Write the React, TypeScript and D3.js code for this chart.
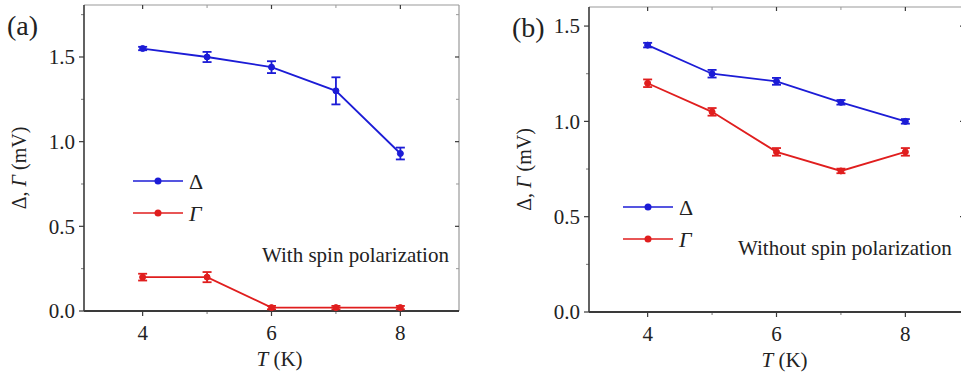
import * as d3 from 'd3'

const temps = [4, 5, 6, 7, 8]

// panel (a): with spin polarization
const deltaA = [1.55, 1.5, 1.44, 1.3, 0.93]
const deltaErrA = [0.01, 0.03, 0.035, 0.08, 0.035]
const gammaA = [0.2, 0.2, 0.02, 0.02, 0.02]
const gammaErrA = [0.02, 0.03, 0.01, 0.01, 0.01]

// panel (b): without spin polarization
const deltaB = [1.4, 1.25, 1.21, 1.1, 1.0]
const deltaErrB = [0.012, 0.02, 0.018, 0.012, 0.012]
const gammaB = [1.2, 1.05, 0.84, 0.74, 0.84]
const gammaErrB = [0.02, 0.02, 0.02, 0.012, 0.02]

const yTicks = [0, 0.5, 1.0, 1.5]
const xTicks = [4, 6, 8]

const BLUE = '#1c1cd6'
const RED = '#e01e1e'
const AXIS = '#3a3a3a'
const txt = { fontFamily: "'Liberation Serif'" }

type Series = { name: string; italic: boolean; color: string; values: number[]; errs: number[] }

type PanelProps = {
  label: string
  note: string
  left: number
  right: number
  top: number
  bottom: number
  yMax: number
  series: Series[]
  legendX: number
  legendY: number
  noteX: number
  noteY: number
}

function Panel(p: PanelProps) {
  const x = d3.scaleLinear().domain([3.09, 8.91]).range([p.left, p.right])
  const y = d3.scaleLinear().domain([0, p.yMax]).range([p.bottom, p.top])
  const line = d3.line<number>().x((_, i) => x(temps[i])).y(d => y(d))
  const minorY = d3.range(0.25, p.yMax, 0.5)
  const minorX = [5, 7]

  return (
    <g>
      <text x={p.left - 77} y={p.top + 30} fontSize={28} fill="#222" style={txt}>{p.label}</text>

      {/* frame */}
      <line x1={p.left} x2={p.right} y1={p.top} y2={p.top} stroke="#999" strokeWidth={1.2} />
      <line x1={p.right} x2={p.right} y1={p.top} y2={p.bottom} stroke="#999" strokeWidth={1.2} />

      {/* ticks */}
      {yTicks.map(t => (
        <g key={'y' + t}>
          <line x1={p.left - 5} x2={p.left} y1={y(t)} y2={y(t)} stroke={AXIS} strokeWidth={1.2} />
          <line x1={p.right - 4} x2={p.right} y1={y(t)} y2={y(t)} stroke={AXIS} strokeWidth={1.2} />
          <text x={p.left - 9} y={y(t)} dy="0.35em" textAnchor="end" fontSize={21} fill="#222" style={txt}>{t.toFixed(1)}</text>
        </g>
      ))}
      {minorY.map(t => (
        <g key={'my' + t}>
          <line x1={p.left - 3} x2={p.left} y1={y(t)} y2={y(t)} stroke="#777" strokeWidth={1} />
          <line x1={p.right - 3} x2={p.right} y1={y(t)} y2={y(t)} stroke="#999" strokeWidth={1} />
        </g>
      ))}
      {xTicks.map(t => (
        <g key={'x' + t}>
          <line x1={x(t)} x2={x(t)} y1={p.bottom} y2={p.bottom + 5} stroke={AXIS} strokeWidth={1.2} />
          <line x1={x(t)} x2={x(t)} y1={p.top} y2={p.top + 4} stroke={AXIS} strokeWidth={1.2} />
          <text x={x(t)} y={p.bottom + 22} dy="0.35em" textAnchor="middle" fontSize={21} fill="#222" style={txt}>{t}</text>
        </g>
      ))}
      {minorX.map(t => (
        <g key={'mx' + t}>
          <line x1={x(t)} x2={x(t)} y1={p.bottom} y2={p.bottom + 3} stroke="#777" strokeWidth={1} />
          <line x1={x(t)} x2={x(t)} y1={p.top} y2={p.top + 3} stroke="#999" strokeWidth={1} />
        </g>
      ))}

      <line x1={p.left} x2={p.left} y1={p.top} y2={p.bottom} stroke={AXIS} strokeWidth={1.6} />
      <line x1={p.left} x2={p.right} y1={p.bottom} y2={p.bottom} stroke={AXIS} strokeWidth={2} />

      {/* axis titles */}
      <text transform={`translate(${p.left - 58},${(p.top + p.bottom) / 2 + 10}) rotate(-90)`} textAnchor="middle" fontSize={20} fill="#222" style={txt}>
        Δ, <tspan fontStyle="italic">Γ</tspan> (mV)
      </text>
      <text x={(p.left + p.right) / 2 + 8} y={p.bottom + 48} dy="0.35em" textAnchor="middle" fontSize={21} fill="#222" style={txt}>
        <tspan fontStyle="italic">T</tspan> (K)
      </text>

      {/* series */}
      {p.series.map(s => (
        <g key={s.name}>
          <path d={line(s.values) ?? ''} fill="none" stroke={s.color} strokeWidth={1.8} />
          {s.values.map((v, i) => {
            const cx = x(temps[i])
            const e = s.errs[i]
            return (
              <g key={i} stroke={s.color} strokeWidth={1.8}>
                <line x1={cx} x2={cx} y1={y(v - e)} y2={y(v + e)} />
                <line x1={cx - 4.5} x2={cx + 4.5} y1={y(v - e)} y2={y(v - e)} />
                <line x1={cx - 4.5} x2={cx + 4.5} y1={y(v + e)} y2={y(v + e)} />
                <circle cx={cx} cy={y(v)} r={3} fill={s.color} strokeWidth={1} />
              </g>
            )
          })}
        </g>
      ))}

      {/* legend */}
      {p.series.map((s, i) => (
        <g key={'l' + s.name} transform={`translate(${p.legendX},${p.legendY + i * 32})`}>
          <line x1={0} x2={50} y1={0} y2={0} stroke={s.color} strokeWidth={1.6} />
          <circle cx={25} cy={0} r={3.5} fill={s.color} />
          <text x={56} y={0} dy="0.35em" fontSize={22} fill="#222" fontStyle={s.italic ? 'italic' : 'normal'} style={txt}>{s.name}</text>
        </g>
      ))}

      <text x={p.noteX} y={p.noteY} dy="0.35em" fontSize={21} fill="#222" style={txt}>{p.note}</text>
    </g>
  )
}

export default function App() {
  return (
    <svg width={961} height={375} style={{ position: 'absolute', left: 0, top: 0, background: '#fff' }}>
      <rect width={961} height={375} fill="#fff" />
      <Panel
        label="(a)"
        note="With spin polarization"
        left={84} right={459} top={5} bottom={311} yMax={1.807}
        series={[
          { name: 'Δ', italic: false, color: BLUE, values: deltaA, errs: deltaErrA },
          { name: 'Γ', italic: true, color: RED, values: gammaA, errs: gammaErrA },
        ]}
        legendX={133} legendY={181}
        noteX={262} noteY={255}
      />
      <Panel
        label="(b)"
        note="Without spin polarization"
        left={589} right={964} top={7} bottom={312} yMax={1.6}
        series={[
          { name: 'Δ', italic: false, color: BLUE, values: deltaB, errs: deltaErrB },
          { name: 'Γ', italic: true, color: RED, values: gammaB, errs: gammaErrB },
        ]}
        legendX={623} legendY={207}
        noteX={738} noteY={248}
      />
    </svg>
  )
}
